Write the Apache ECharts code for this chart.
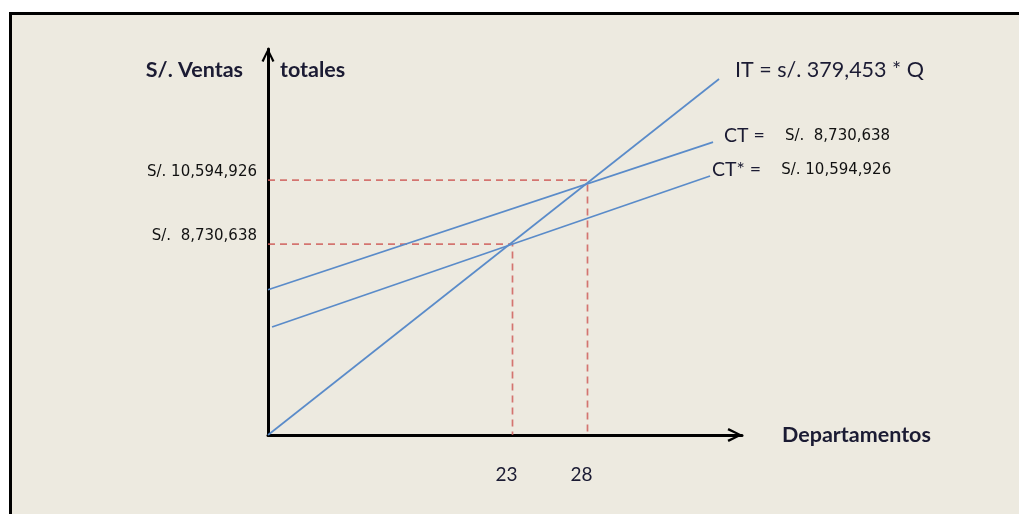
<!DOCTYPE html>
<html>
<head>
<meta charset="utf-8">
<script src="https://cdn.jsdelivr.net/npm/echarts@6/dist/echarts.min.js"></script>
<style>
  html, body { margin: 0; padding: 0; background: #ffffff; overflow: hidden; }
  #frame { position: absolute; left: 9px; top: 12px; width: 1200px; height: 700px;
           background: #EDEAE0; border-left: 3px solid #000; border-top: 3px solid #000; }
  #chart { position: absolute; left: 0; top: 0; width: 1019px; height: 514px; }
</style>
</head>
<body>
<div id="frame"></div>
<div id="chart"></div>
<script>
// ---- data ----
const breakEvenQ = [23, 28];                    // departamentos
const breakEvenS = [8730638, 10594926];         // S/. at break-even
const xTickValues = [23, 28];
const yTickValues = [8730638, 10594926];
const itLine     = [[6.7, 3170000], [36.77, 13540000]];   // IT = 379,453 * Q
const ctLine     = [[6.7, 7400000], [36.37, 11700000]];   // CT (upper)
const ctStarLine = [[6.97, 6316000], [36.17, 10714000]];  // CT* (lower)
const itText = 'IT = s/. 379,453 * Q';
const ctText = ['CT =', 'S/.  8,730,638'];
const ctStarText = ['CT* =', 'S/. 10,594,926'];
const xRange = [6.7, 38.3];
const yRange = [3170000, 14414000];

function money(v) {
  const s = Math.round(v).toLocaleString('en-US');
  return 'S/. ' + s.padStart(10, ' ');
}

const blue = '#5A8BC9';
const red = '#CF5F5C';
const ink = '#1b1b33';
const titleFont = 'Lato';
const numFont = 'DejaVu Sans';

// dashed guide segments built from break-even arrays
const guides = [];
breakEvenQ.forEach((q, i) => {
  guides.push({
    type: 'line', symbol: 'none', silent: true,
    lineStyle: { color: red, width: 1.7, type: [7, 5], opacity: 0.85 },
    data: [[xRange[0], breakEvenS[i]], [q, breakEvenS[i]], [q, yRange[0]]],
    z: 1
  });
});

const chevron = 'path://M0,10 L5,0 L10,10 L8.4,10.8 L5,3.2 L1.6,10.8 Z';

const chart = echarts.init(document.getElementById('chart'), null, { renderer: 'canvas' });
chart.setOption({
  animation: false,
  backgroundColor: 'transparent',
  grid: { left: 268, right: 277, top: 49, bottom: 79 },
  xAxis: {
    type: 'value', min: xRange[0], max: xRange[1],
    axisLine: { show: true, onZero: false, symbol: ['none', chevron], symbolSize: [17, 15], symbolOffset: [0, -7],
                lineStyle: { color: '#000', width: 3 } },
    axisTick: { show: false },
    splitLine: { show: false },
    axisLabel: { customValues: xTickValues, margin: 30, color: ink, fontFamily: titleFont, fontSize: 19,
                 padding: [0, 12, 0, 0] },
    name: 'Departamentos', nameLocation: 'end', nameGap: 40,
    nameTextStyle: { color: ink, fontFamily: titleFont, fontSize: 21.5, fontWeight: 'bold', padding: [10, 0, 0, 0] }
  },
  yAxis: [{
    type: 'value', min: yRange[0], max: yRange[1],
    axisLine: { show: true, onZero: false, symbol: ['none', chevron], symbolSize: [17, 14], symbolOffset: [0, -6],
                lineStyle: { color: '#000', width: 3 } },
    axisTick: { show: false },
    splitLine: { show: false },
    axisLabel: { customValues: yTickValues, formatter: money, margin: 11, color: '#111',
                 fontFamily: numFont, fontSize: 15, verticalAlign: 'bottom', padding: [0, 0, 0, 0] },
    name: 'S/. Ventas', nameLocation: 'end', nameGap: -21,
    nameTextStyle: { color: ink, fontFamily: titleFont, fontSize: 21.5, fontWeight: 'bold',
                     align: 'right', verticalAlign: 'middle', padding: [0, 25, 0, 0] }
  }, {
    type: 'value', position: 'left', offset: 0,
    axisLine: { show: false }, axisTick: { show: false }, axisLabel: { show: false }, splitLine: { show: false },
    name: 'totales', nameLocation: 'end', nameGap: -21,
    nameTextStyle: { color: ink, fontFamily: titleFont, fontSize: 21.5, fontWeight: 'bold',
                     align: 'left', verticalAlign: 'middle', padding: [0, 0, 0, 12] }
  }],
  series: guides.concat([
    {
      type: 'line', symbol: 'none', silent: true, data: itLine, z: 3,
      lineStyle: { color: blue, width: 1.7 },
      endLabel: { show: true, formatter: itText, distance: 0, offset: [16, -9],
                  color: ink, fontFamily: titleFont, fontSize: 21.5 }
    },
    {
      type: 'line', symbol: 'none', silent: true, data: ctLine, z: 3,
      lineStyle: { color: blue, width: 1.7 },
      endLabel: { show: true, distance: 0, offset: [11, -6],
                  formatter: '{a|' + ctText[0] + '}{s| }{b|' + ctText[1] + '}',
                  rich: { a: { color: ink, fontFamily: titleFont, fontSize: 19.5 },
                          s: { width: 20 },
                          b: { color: '#111', fontFamily: numFont, fontSize: 15 } } }
    },
    {
      type: 'line', symbol: 'none', silent: true, data: ctStarLine, z: 3,
      lineStyle: { color: blue, width: 1.7 },
      endLabel: { show: true, distance: 0, offset: [2, -6],
                  formatter: '{a|' + ctStarText[0] + '}{s| }{b|' + ctStarText[1] + '}',
                  rich: { a: { color: ink, fontFamily: titleFont, fontSize: 19.5 },
                          s: { width: 20 },
                          b: { color: '#111', fontFamily: numFont, fontSize: 15 } } }
    }
  ])
});
</script>
</body>
</html>
